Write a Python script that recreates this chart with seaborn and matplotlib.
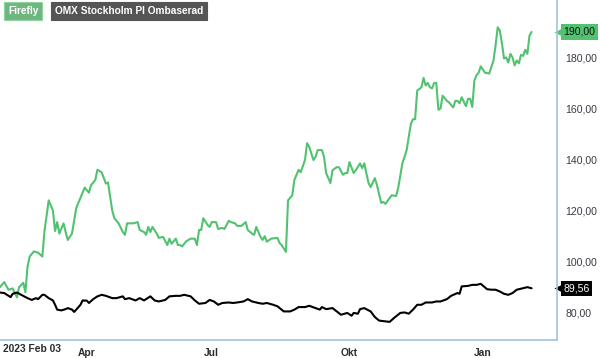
import numpy as np
import pandas as pd
import matplotlib
matplotlib.use("Agg")
import matplotlib.pyplot as plt
import matplotlib.transforms as mtransforms
import seaborn as sns

sns.set_style("white")
plt.rcParams['font.family'] = ['Liberation Sans', 'DejaVu Sans']

# Handelsdagar Stockholmsbörsen, 2023-02-03 .. 2024-02-02
start_date = '2023-02-03'
end_date = '2024-02-02'
holidays = ['2023-04-07', '2023-04-10', '2023-05-01', '2023-05-18', '2023-06-06',
            '2023-06-23', '2023-12-25', '2023-12-26', '2024-01-01']
quarter_months = ['2023-04', '2023-07', '2023-10', '2024-01']
quarter_labels = ['Apr', 'Jul', 'Okt', 'Jan']
event_date = '2023-04-25'

series_names = ['Firefly', 'OMX Stockholm PI Ombaserad']

# Firefly (handelsdag-index, kurs)
firefly_day = [0, 2, 4, 6, 8, 9, 11, 12, 13, 14, 16, 18, 20, 21, 23, 25, 26, 27, 28, 30,
               31, 32, 34, 36, 39, 40, 42, 43, 45, 46, 48, 50, 51, 53, 54, 56, 58, 59, 60, 63,
               65, 66, 68, 69, 70, 71, 72, 74, 75, 77, 79, 80, 81, 83, 84, 85, 86, 88, 90, 92,
               93, 94, 95, 96, 98, 99, 100, 102, 103, 105, 106, 108, 109, 111, 112, 114, 116, 117, 119, 120,
               121, 123, 124, 125, 126, 128, 131, 132, 133, 135, 136, 138, 139, 141, 142, 144, 145, 146, 148, 149,
               150, 152, 153, 154, 156, 157, 159, 160, 162, 163, 164, 165, 167, 168, 170, 171, 172, 174, 175, 177,
               178, 180, 181, 182, 184, 185, 187, 188, 190, 191, 192, 194, 195, 196, 197, 199, 200, 201, 202, 203,
               204, 205, 206, 207, 208, 209, 211, 212, 214, 215, 216, 217, 218, 220, 221, 222, 223, 224, 225, 226,
               227, 229, 231, 233, 234, 235, 236, 237, 238, 239, 240, 241, 242, 243, 244, 245, 246, 247, 248, 249,
               250, 251]
firefly_close = [90, 92, 89, 89.5, 86, 90, 91.7, 88, 98, 102, 104, 103.5, 102, 112, 124, 120, 112, 115.5, 111, 115,
                 111.6, 108.5, 111, 121, 127, 129, 127, 130, 132, 136, 135, 130.6, 131, 120, 117, 115, 111.6, 110.5, 115, 115,
                 115.5, 112.4, 111.6, 110.5, 113.6, 111.6, 113.6, 111, 109.3, 109.7, 106.5, 109, 107, 109, 106.5, 106.5, 106, 108, 109, 109,
                 106.5, 112.4, 112.4, 117, 114.4, 113.6, 115.5, 115.5, 112.8, 113.2, 112.8, 116, 115.5, 115, 114, 114, 115.5, 112.4, 111, 110.5,
                 113.6, 109.7, 108.5, 110, 107.8, 109, 109.3, 107.3, 106.5, 103.8, 124, 126, 132, 136, 135, 139.8, 146.4, 145, 139.8, 141,
                 143.7, 143.7, 141, 134.7, 130.8, 135.8, 137, 137, 134, 134.7, 134.7, 139, 134.7, 135.8, 138.5, 136.6, 138.5, 130.8, 129.2, 132.7,
                 130, 123, 123.4, 122.6, 125, 126, 125.7, 128.8, 138.5, 141, 143.7, 154, 155.8, 155.8, 167, 168.3, 172, 169, 170, 168.3,
                 167.9, 170, 170, 159.5, 160, 165, 163, 162.4, 160.4, 163, 163, 162, 164.4, 160.9, 163.8, 163.8, 160.6, 171, 173, 174,
                 176.5, 174, 173.7, 178.8, 184.7, 191.8, 190.5, 185.5, 179.6, 180, 178, 181.4, 180, 176.9, 178.8, 177.7, 181, 180.6, 183, 181.4,
                 188.5, 190.0]

# OMX Stockholm PI, ombaserad
omx_day = [0, 2, 5, 6, 8, 10, 13, 15, 17, 18, 20, 21, 23, 25, 26, 27, 29, 31, 32, 34,
           35, 36, 38, 39, 41, 42, 44, 46, 48, 50, 53, 55, 58, 59, 61, 64, 66, 68, 71, 73,
           75, 78, 80, 83, 85, 87, 90, 92, 94, 97, 99, 101, 103, 105, 108, 110, 112, 115, 117, 119,
           122, 124, 126, 129, 131, 134, 137, 139, 141, 144, 146, 149, 151, 152, 154, 157, 159, 161, 164, 166,
           167, 169, 170, 172, 175, 177, 179, 182, 184, 186, 189, 191, 193, 195, 197, 199, 201, 204, 206, 208,
           211, 213, 216, 217, 218, 221, 223, 225, 227, 230, 232, 234, 236, 238, 240, 242, 244, 247, 249, 251]
omx_close = [87.9, 87.7, 86.1, 87.4, 87.9, 87, 85.7, 85, 85.7, 85.3, 87, 87, 85.7, 84.8, 83.1, 81.2, 80.9, 81.4, 81.8, 81.2,
             80.3, 81.2, 83.1, 84.8, 84.7, 83.8, 85.3, 86.4, 87, 86.6, 85.7, 85.7, 86.4, 85.3, 85.7, 84.8, 85.7, 84.8, 86.4, 84.8,
             84.4, 85, 86.4, 86.6, 86.6, 87, 86.4, 84.8, 83.5, 83.8, 85, 84.4, 83.1, 83.8, 84, 83.8, 84, 84.4, 85.3, 84.4,
             83.8, 83.5, 83.8, 83.1, 82.5, 80.5, 80.5, 81.2, 82.2, 82.2, 82.7, 81.8, 81.2, 82.2, 81.4, 81.8, 80.5, 79.2, 79.9, 78.8,
             79.9, 79.6, 81.4, 81.8, 80.5, 78.3, 76.9, 76.6, 76.4, 77.9, 79.9, 80.1, 79.6, 81.2, 83.1, 83.1, 84, 84, 84.4, 84.4,
             85.3, 86.6, 87.7, 87.4, 90.3, 90.5, 90.9, 90.9, 91.3, 89.2, 89, 89, 88.3, 87.4, 87, 87.7, 89, 89.6, 90, 89.56]

y_ticks = [80, 100, 120, 140, 160, 180]

green = '#52c271'
black = '#000000'
axis_blue = '#9ec4d8'
tick_blue = '#3f80b5'
label_col = '#3a3a48'

dates = pd.bdate_range(start_date, end_date, freq='C', holidays=holidays)
quarter_pos = [int(np.argmax(dates.strftime('%Y-%m') == m)) for m in quarter_months]
event_pos = int(np.argmax(dates == pd.Timestamp(event_date)))

df = pd.concat([
    pd.DataFrame({'dag': firefly_day, 'kurs': firefly_close, 'serie': series_names[0]}),
    pd.DataFrame({'dag': omx_day, 'kurs': omx_close, 'serie': series_names[1]}),
])

fig = plt.figure(figsize=(6, 3.58), dpi=100)
ax = fig.add_axes([0, 18 / 358, 557 / 600, 340 / 358])

sns.lineplot(data=df, x='dag', y='kurs', hue='serie', hue_order=series_names,
             palette={series_names[0]: green, series_names[1]: black},
             linewidth=1.5, legend=False, ax=ax)

ax.set_xlim(0, 263)
ax.set_ylim(69.3, 202.5)
ax.set_xlabel('')
ax.set_ylabel('')

for side in ['top', 'left']:
    ax.spines[side].set_visible(False)
for side in ['right', 'bottom']:
    ax.spines[side].set_color(axis_blue)
    ax.spines[side].set_linewidth(1.2)

# y-axel till höger
ax.yaxis.tick_right()
ax.set_yticks(y_ticks)
ax.set_yticklabels([f"{v:.2f}".replace('.', ',') for v in y_ticks])
ax.tick_params(axis='y', length=0, pad=6, labelsize=7.6, labelcolor=label_col)

# x-axel
ax.set_xticks(quarter_pos)
ax.set_xticklabels(quarter_labels, fontweight='bold')
ax.set_xticks([event_pos], minor=True)
ax.tick_params(axis='x', which='major', direction='out', length=4, width=1, color=tick_blue,
               labelsize=7.4, labelcolor='#2b2b2b', pad=2)
ax.tick_params(axis='x', which='minor', direction='out', length=4, width=1, color='#f07070')
ax.annotate(dates[0].strftime('%Y %b %d'), xy=(0, 0), xycoords=('data', 'axes fraction'),
            xytext=(2, -3), textcoords='offset points', ha='left', va='top',
            fontsize=7.4, fontweight='bold', color='#2b2b2b', annotation_clip=False)

# senaste värden
trans = mtransforms.blended_transform_factory(ax.transAxes, ax.transData)
for last, fc, tc in [(firefly_close[-1], green, '#111111'), (omx_close[-1], black, 'white')]:
    ax.annotate(f"{last:.2f}".replace('.', ','), xy=(1, last), xycoords=trans,
                xytext=(4.5, 0), textcoords='offset points', ha='left', va='center',
                fontsize=7.6, color=tc, annotation_clip=False,
                bbox=dict(boxstyle='square,pad=0.25', fc=fc, ec='none'))
    ax.plot([1.004], [last], marker='<', ms=6.5, color=fc, mec='none',
            transform=trans, clip_on=False)

# legend som etiketter
fig.text(8 / 600, 1 - 11 / 358, series_names[0], fontsize=7.3, fontweight='bold', color='white',
         ha='left', va='center',
         bbox=dict(boxstyle='square,pad=0.35', fc='#6fb681', ec='#8fd49c', lw=0.8))
fig.text(55 / 600, 1 - 11 / 358, series_names[1], fontsize=7.3, fontweight='bold', color='white',
         ha='left', va='center',
         bbox=dict(boxstyle='square,pad=0.35', fc='#555555', ec='#555555', lw=0.8))

fig.savefig('out.png', dpi=100)
